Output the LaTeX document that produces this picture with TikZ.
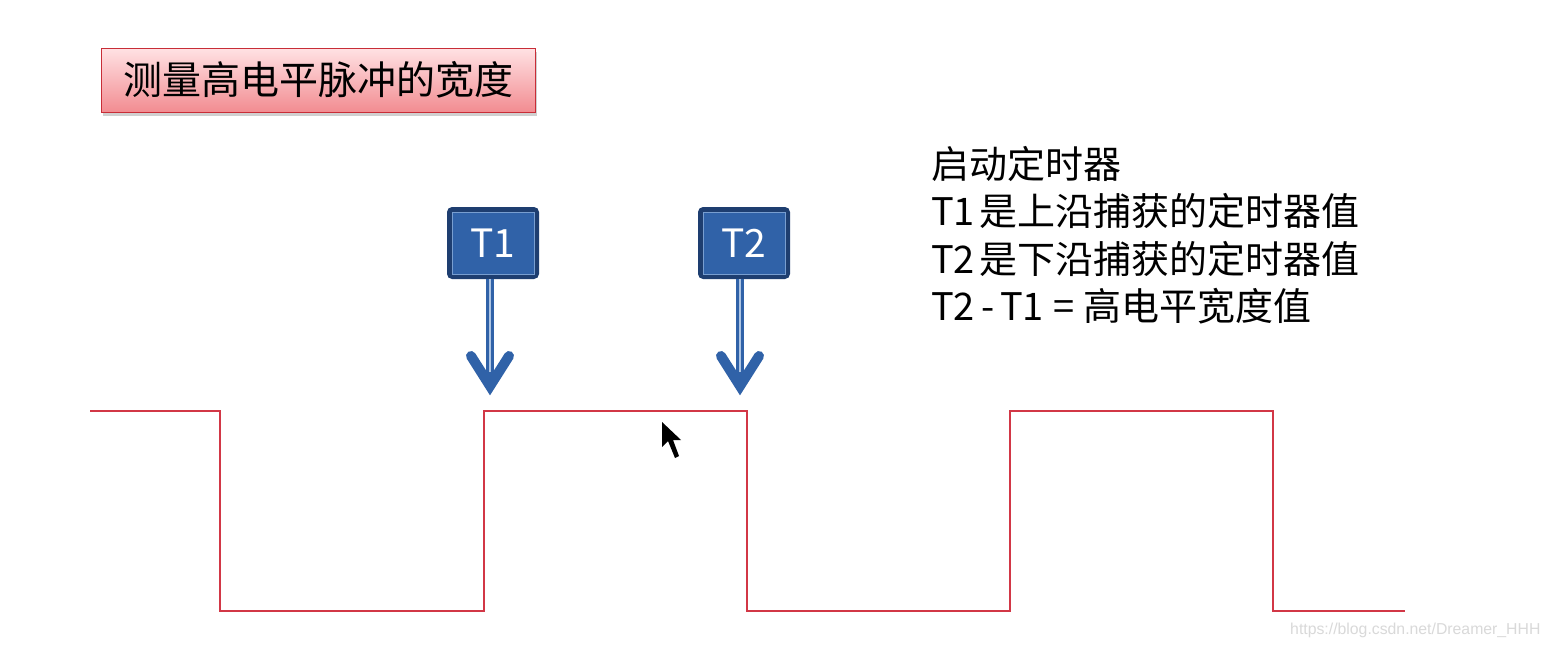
\documentclass[tikz,border=0pt]{standalone}
\usepackage{fontspec}
\newfontfamily\cjk{Noto Sans CJK SC}
\newfontfamily\wmfont{Liberation Sans}
\usetikzlibrary{shadows}
\definecolor{wave}{RGB}{210,55,70}
\definecolor{tdark}{RGB}{30,62,112}
\definecolor{tmid}{RGB}{48,98,168}
\definecolor{tlight}{RGB}{120,158,208}
\definecolor{titleborder}{RGB}{200,45,55}
\tikzset{
  titlebox/.style={draw=titleborder, line width=1pt, top color={rgb,255:red,255;green,226;blue,228},
    bottom color={rgb,255:red,242;green,140;blue,145}, minimum width=434pt, minimum height=64pt,
    inner sep=0pt, font=\cjk\fontsize{39}{42}\selectfont,
    drop shadow={shadow xshift=2pt, shadow yshift=-4pt, opacity=0.3, fill=black!60}},
  tbox/.style={draw=tdark, line width=5pt, fill=tmid, rounded corners=3pt,
    minimum width=87pt, minimum height=67pt, inner sep=0pt, text=white,
    font=\cjk\fontsize{39}{42}\selectfont},
  tinner/.style={draw=tlight, line width=0.8pt},
  shaft/.style={draw=tmid, line width=8pt},
  shaftline/.style={draw=tlight!60!white, line width=1.5pt},
  chev/.style={draw=tmid, line width=10pt, line cap=round, line join=miter},
  wavestyle/.style={draw=wave, line width=1.4pt},
  info/.style={anchor=north west, inner sep=0pt, align=left, font=\cjk\fontsize{38}{47.4}\selectfont},
  watermark/.style={anchor=west, inner sep=0pt, text=black!15, font=\wmfont\fontsize{15.8}{16}\selectfont},
}
\begin{document}
\begin{tikzpicture}[x=1pt,y=-1pt]
\useasboundingbox[fill=white] (0,0) rectangle (1550,648);

% title
\node[titlebox] (title) at (318,80) {测量高电平脉冲的宽度};

% waveform
\draw[wavestyle] (90,411) -- (220,411) -- (220,611) -- (484,611) -- (484,411)
  -- (747,411) -- (747,611) -- (1010,611) -- (1010,411) -- (1273,411) -- (1273,611) -- (1405,611);

% T1 marker
\node[tbox] (t1) at (493,243) {T1};
\draw[tinner] ([shift={(5,5)}]t1.north west) rectangle ([shift={(-5,-5)}]t1.south east);
\coordinate (a1) at (490,386);
\draw[shaft] (t1.south -| a1) -- (a1);
\draw[shaftline] (t1.south -| a1) -- ([shift={(0,-14)}]a1);
\draw[chev] ([shift={(-19,-30)}]a1) -- (a1) -- ([shift={(19,-30)}]a1);

% T2 marker
\node[tbox] (t2) at (744,243) {T2};
\draw[tinner] ([shift={(5,5)}]t2.north west) rectangle ([shift={(-5,-5)}]t2.south east);
\coordinate (a2) at (740,386);
\draw[shaft] (t2.south -| a2) -- (a2);
\draw[shaftline] (t2.south -| a2) -- ([shift={(0,-14)}]a2);
\draw[chev] ([shift={(-19,-30)}]a2) -- (a2) -- ([shift={(19,-30)}]a2);

% info text
\node[info] (info) at (931,146) {启动定时器\\T1\kern4pt 是上沿捕获的定时器值\\T2\kern4pt 是下沿捕获的定时器值\\T2\kern6pt -\kern6pt T1\kern9pt =\kern9pt 高电平宽度值};

% mouse cursor
\fill[black] (662,422) -- (662,447) -- (668,441) -- (675,458) -- (679,456) -- (673,440) -- (681,440) -- cycle;

% watermark
\node[watermark] (wm) at (1290,630) {https://blog.csdn.net/Dreamer\_HHH};
\end{tikzpicture}
\end{document}
